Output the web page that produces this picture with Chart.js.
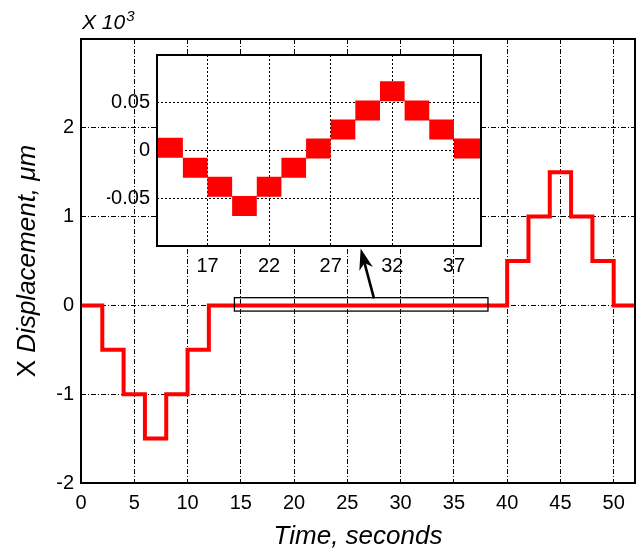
<!DOCTYPE html>
<html>
<head>
<meta charset="utf-8">
<script src="https://cdn.jsdelivr.net/npm/chart.js@4/dist/chart.umd.min.js"></script>
<style>
  html, body { margin: 0; padding: 0; background: #fff; }
  #wrap { position: relative; width: 643px; height: 553px; }
  #wrap canvas { position: absolute; left: 0; top: 0; }
  #inset { pointer-events: none; }
</style>
</head>
<body>
<div id="wrap">
  <canvas id="main" width="643" height="553"></canvas>
  <canvas id="inset" width="643" height="553"></canvas>
</div>
<script>
// ---- data (values in units of 10^3) ----
const mainTimes  = [0, 2, 4, 6, 8, 10, 12, 40, 42, 44, 46, 48, 50, 52];
const mainLevels = [0, -0.5, -1, -1.5, -1, -0.5, 0, 0.5, 1, 1.5, 1, 0.5, 0, 0];

const insetTimes  = [12.9, 15, 17, 19, 21, 23, 25, 27, 29, 31, 33, 35, 37, 39.2];
const insetLevels = [0.003, -0.018, -0.038, -0.058, -0.038, -0.018, 0.002, 0.022, 0.042, 0.062, 0.042, 0.022, 0.002];

const mainXTicks  = [0, 5, 10, 15, 20, 25, 30, 35, 40, 45, 50];
const mainYTicks  = [-2, -1, 0, 1, 2];
const insetXTicks = [17, 22, 27, 32, 37];
const insetYTicks = [-0.05, 0, 0.05];

const xTitle = 'Time, seconds';
const yTitleParts = [['X ', 'normal'], ['Displacement, ', 'italic'], ['\u03bc', 'italic'], ['m', 'italic']];
const scaleNote = ['X 10', '3'];

// ---- helpers ----
const FONT = "'Liberation Sans', Arial, Helvetica, sans-serif";
const mainPoints = mainTimes.map((t, i) => ({ x: t, y: mainLevels[i] }));
const insetPoints = [];
insetLevels.forEach((v, i) => {
  insetPoints.push({ x: insetTimes[i], y: v });
  insetPoints.push({ x: insetTimes[i + 1], y: v });
  insetPoints.push({ x: insetTimes[i + 1], y: null });
});

function fixedTicks(arr) {
  return function (scale) { scale.ticks = arr.map(v => ({ value: v })); };
}

const mainDecor = {
  id: 'mainDecor',
  afterDatasetsDraw(chart) {
    const { ctx, chartArea: a, scales: { x, y } } = chart;
    ctx.save();
    // zoom box
    const bx0 = x.getPixelForValue(14.4), bx1 = x.getPixelForValue(38.2);
    const by0 = y.getPixelForValue(0.087), by1 = y.getPixelForValue(-0.064);
    ctx.strokeStyle = '#000';
    ctx.lineWidth = 1.3;
    ctx.strokeRect(bx0, by0, bx1 - bx0, by1 - by0);
    // arrow
    const sx = x.getPixelForValue(27.5), sy = y.getPixelForValue(0.08);
    const tx = x.getPixelForValue(26.25), ty = y.getPixelForValue(0.64);
    let ux = tx - sx, uy = ty - sy;
    const len = Math.hypot(ux, uy); ux /= len; uy /= len;
    const nx = -uy, ny = ux;
    const L = 21, W = 7, N = 6;
    ctx.lineWidth = 2.6;
    ctx.beginPath();
    ctx.moveTo(sx, sy);
    ctx.lineTo(tx - ux * (L - N), ty - uy * (L - N));
    ctx.stroke();
    ctx.fillStyle = '#000';
    ctx.beginPath();
    ctx.moveTo(tx, ty);
    ctx.lineTo(tx - ux * L + nx * W, ty - uy * L + ny * W);
    ctx.lineTo(tx - ux * (L - N), ty - uy * (L - N));
    ctx.lineTo(tx - ux * L - nx * W, ty - uy * L - ny * W);
    ctx.closePath();
    ctx.fill();
    // axes box
    ctx.lineWidth = 2;
    ctx.strokeRect(a.left, a.top, a.right - a.left, a.bottom - a.top);
    ctx.restore();
  },
  afterDraw(chart) {
    const { ctx, chartArea: a } = chart;
    ctx.save();
    ctx.fillStyle = '#000';
    // x title
    ctx.font = 'italic 26px ' + FONT;
    ctx.textAlign = 'center';
    ctx.textBaseline = 'alphabetic';
    ctx.fillText(xTitle, (a.left + a.right) / 2, 544);
    // y title (rotated)
    ctx.translate(35, (a.top + a.bottom) / 2);
    ctx.rotate(-Math.PI / 2);
    let total = 0;
    yTitleParts.forEach(([s, st]) => { ctx.font = st + ' 26px ' + FONT; total += ctx.measureText(s).width; });
    let cx = -total / 2;
    ctx.textAlign = 'left';
    yTitleParts.forEach(([s, st]) => {
      ctx.font = st + ' 26px ' + FONT;
      ctx.fillText(s, cx, 0);
      cx += ctx.measureText(s).width;
    });
    ctx.setTransform(1, 0, 0, 1, 0, 0);
    // X 10^3
    ctx.font = 'italic 21px ' + FONT;
    ctx.textAlign = 'left';
    ctx.fillText(scaleNote[0], 82, 29);
    const w = ctx.measureText(scaleNote[0]).width;
    ctx.font = 'italic 15px ' + FONT;
    ctx.fillText(scaleNote[1], 82 + w + 1, 21);
    ctx.restore();
  }
};

new Chart(document.getElementById('main'), {
  type: 'line',
  data: {
    datasets: [{
      data: mainPoints,
      stepped: true,
      borderColor: '#ff0000',
      borderWidth: 4,
      pointRadius: 0,
      fill: false,
      borderJoinStyle: 'miter'
    }]
  },
  options: {
    responsive: false,
    animation: false,
    events: [],
    layout: { padding: { left: 31, top: 39, right: 8, bottom: 30 } },
    plugins: { legend: { display: false }, tooltip: { enabled: false } },
    scales: {
      x: {
        type: 'linear', min: 0, max: 52,
        afterBuildTicks: fixedTicks(mainXTicks),
        afterFit(s) { s.height = 40; },
        grid: { color: '#000', lineWidth: 1, drawTicks: false },
        border: { display: false, dash: [5, 2, 1, 2] },
        ticks: { color: '#000', font: { family: FONT, size: 20 }, padding: 8, maxRotation: 0, callback: v => String(v) }
      },
      y: {
        type: 'linear', min: -2, max: 3,
        afterBuildTicks: fixedTicks(mainYTicks),
        afterFit(s) { s.width = 50; },
        grid: { color: '#000', lineWidth: 1, drawTicks: false },
        border: { display: false, dash: [5, 2, 1, 2] },
        ticks: { color: '#000', font: { family: FONT, size: 20 }, padding: 7, callback: v => String(v) }
      }
    }
  },
  plugins: [mainDecor]
});

const insetDecor = {
  id: 'insetDecor',
  beforeDraw(chart) {
    const { ctx, chartArea: a } = chart;
    ctx.save();
    ctx.fillStyle = '#fff';
    ctx.fillRect(a.left, a.top, a.right - a.left, a.bottom - a.top);
    ctx.restore();
  },
  afterDraw(chart) {
    const { ctx, chartArea: a } = chart;
    ctx.save();
    ctx.strokeStyle = '#000';
    ctx.lineWidth = 2;
    ctx.strokeRect(a.left, a.top, a.right - a.left, a.bottom - a.top);
    ctx.restore();
  }
};

new Chart(document.getElementById('inset'), {
  type: 'line',
  data: {
    datasets: [{
      data: insetPoints,
      borderColor: '#ff0000',
      borderWidth: 20,
      borderCapStyle: 'butt',
      pointRadius: 0,
      fill: false,
      spanGaps: false
    }]
  },
  options: {
    responsive: false,
    animation: false,
    events: [],
    layout: { padding: { left: 107, top: 55, right: 162, bottom: 272 } },
    plugins: { legend: { display: false }, tooltip: { enabled: false } },
    scales: {
      x: {
        type: 'linear', min: 12.9, max: 39.2,
        afterBuildTicks: fixedTicks(insetXTicks),
        afterFit(s) { s.height = 35; },
        grid: { color: '#000', lineWidth: 1, drawTicks: false },
        border: { display: false, dash: [2, 2] },
        ticks: { color: '#000', font: { family: FONT, size: 20 }, padding: 8, maxRotation: 0, callback: v => String(v) }
      },
      y: {
        type: 'linear', min: -0.1, max: 0.1,
        afterBuildTicks: fixedTicks(insetYTicks),
        afterFit(s) { s.width = 50; },
        grid: { color: '#000', lineWidth: 1, drawTicks: false },
        border: { display: false, dash: [2, 2] },
        ticks: { color: '#000', font: { family: FONT, size: 20 }, padding: 7, callback: v => (v === 0 ? '0' : v.toFixed(2)) }
      }
    }
  },
  plugins: [insetDecor]
});
</script>
</body>
</html>
